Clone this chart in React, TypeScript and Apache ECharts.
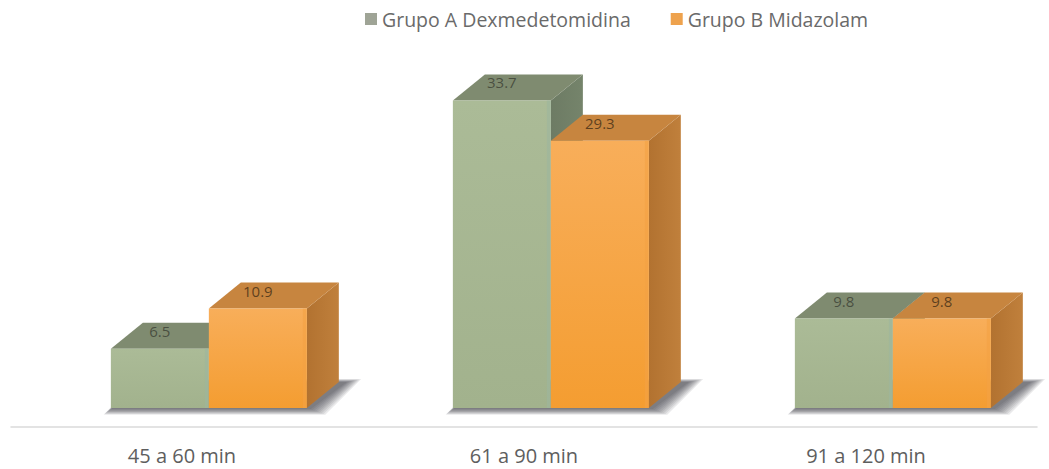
import React, { useEffect, useRef } from "react";
import * as echarts from "echarts";

// Chart data
const categories = ["45 a 60 min", "61 a 90 min", "91 a 120 min"];
const seriesNames = ["Grupo A Dexmedetomidina", "Grupo B Midazolam"];
const grupoA = [6.5, 33.7, 9.8];
const grupoB = [10.9, 29.3, 9.8];

// Box geometry (fractions of the category band, and the depth offset in px)
const BAR_OFF = -0.208;
const BAR_W = 0.2865;
const DX = 32;
const DY = -26;

type Palette = {
  frontTop: string;
  frontBottom: string;
  frontEdge: string;
  top: string;
  sideA: string;
  sideB: string;
  legend: string;
  label: string;
};

const palettes: Palette[] = [
  {
    frontTop: "#abbb97",
    frontBottom: "#a2b28d",
    frontEdge: "#9cb59e",
    top: "#7f8b70",
    sideA: "#6d7b64",
    sideB: "#75846b",
    legend: "#9fa496",
    label: "#3f4538",
  },
  {
    frontTop: "#f8ae5a",
    frontBottom: "#f49d31",
    frontEdge: "#f3a244",
    top: "#c7853f",
    sideA: "#b27230",
    sideB: "#c0803c",
    legend: "#eea24d",
    label: "#4a3318",
  },
];

function boxRenderer(idx: number) {
  const pal = palettes[idx];
  return (params: any, api: any) => {
    const ci = api.value(0);
    const v = api.value(1);
    const top = api.coord([ci, v]);
    const base = api.coord([ci, 0]);
    const band = api.size([1, 0])[0];
    const w = band * BAR_W;
    const x0 = top[0] + band * BAR_OFF + idx * w;
    const yT = top[1];
    const yB = base[1];
    const x1 = x0 + w;

    const topFace = [
      [x0, yT],
      [x1, yT],
      [x1 + DX, yT + DY],
      [x0 + DX, yT + DY],
    ];
    const sideFace = [
      [x1, yT],
      [x1 + DX, yT + DY],
      [x1 + DX, yB + DY],
      [x1, yB],
    ];

    return {
      type: "group",
      children: [
        {
          type: "polygon",
          shape: { points: sideFace },
          style: {
            fill: {
              type: "linear",
              x: 0,
              y: 0,
              x2: 1,
              y2: 0,
              colorStops: [
                { offset: 0, color: pal.sideA },
                { offset: 1, color: pal.sideB },
              ],
            },
          },
        },
        {
          type: "polygon",
          shape: { points: topFace },
          style: { fill: pal.top },
        },
        {
          type: "rect",
          shape: { x: x0, y: yT, width: w, height: yB - yT },
          style: {
            fill: {
              type: "linear",
              x: 0,
              y: 0,
              x2: 0,
              y2: 1,
              colorStops: [
                { offset: 0, color: pal.frontTop },
                { offset: 1, color: pal.frontBottom },
              ],
            },
          },
        },
        {
          type: "rect",
          shape: { x: x1 - 4, y: yT, width: 4, height: yB - yT },
          style: { fill: pal.frontEdge, opacity: 0.6 },
        },
        {
          type: "text",
          style: {
            text: String(v),
            x: x0 + w / 2,
            y: yT - 18,
            align: "center",
            verticalAlign: "middle",
            fontSize: 15,
            fontFamily: "Open Sans",
            fill: pal.label,
            opacity: 0.85,
          },
        },
      ],
    };
  };
}

// Soft floor shadow below each pair of boxes, built from stacked translucent layers
function shadowRenderer(params: any, api: any) {
  const ci = api.value(0);
  const base = api.coord([ci, 0]);
  const band = api.size([1, 0])[0];
  const w = band * BAR_W;
  const x0 = base[0] + band * BAR_OFF;
  const x1 = x0 + 2 * w;
  const yB = base[1];
  const layers = [];
  const steps = 8;
  for (let s = steps; s >= 0; s--) {
    const g = s * 1.8;
    layers.push({
      type: "polygon",
      shape: {
        points: [
          [x0 - g * 0.5, yB + 1 + g * 0.4],
          [x1 + 4 + g, yB + 1 + g * 0.4],
          [x1 + DX + 8 + g, yB + DY - g * 0.2],
          [x0 + DX - g * 0.3, yB + DY - g * 0.2],
        ],
      },
      style: { fill: "rgba(45,45,58,0.1)" },
    });
  }
  return { type: "group", children: layers };
}

export default function App() {
  const ref = useRef<HTMLDivElement>(null);

  useEffect(() => {
    if (!ref.current) return;
    const chart = echarts.init(ref.current, null, { renderer: "svg" });
    chart.setOption({
      animation: false,
      backgroundColor: "#ffffff",
      legend: {
        data: seriesNames,
        left: 365,
        top: 9,
        padding: 0,
        itemGap: 40,
        itemWidth: 12,
        itemHeight: 12,
        icon: "rect",
        textStyle: {
          fontFamily: "Open Sans",
          fontSize: 19.5,
          lineHeight: 20,
          color: "#6a6a6a",
        },
      },
      grid: { left: 11, right: 12, top: 43, bottom: 61 },
      xAxis: {
        type: "category",
        data: categories,
        offset: 19,
        axisLine: {
          show: true,
          onZero: false,
          lineStyle: { color: "#dadada", width: 1.5 },
        },
        axisTick: { show: false },
        axisLabel: {
          margin: 18,
          fontFamily: "Open Sans",
          fontSize: 20,
          lineHeight: 20,
          color: "#5e5e5e",
        },
      },
      yAxis: {
        type: "value",
        min: 0,
        max: 40,
        show: false,
        splitLine: { show: false },
      },
      series: [
        {
          type: "custom",
          name: "shadow",
          renderItem: shadowRenderer,
          data: categories.map((_, i) => [i, 0]),
          silent: true,
          z: 1,
        },
        {
          type: "custom",
          name: seriesNames[0],
          renderItem: boxRenderer(0),
          itemStyle: { color: palettes[0].legend },
          data: grupoA.map((v, i) => [i, v]),
          z: 2,
        },
        {
          type: "custom",
          name: seriesNames[1],
          renderItem: boxRenderer(1),
          itemStyle: { color: palettes[1].legend },
          data: grupoB.map((v, i) => [i, v]),
          z: 3,
        },
      ],
    });
    return () => chart.dispose();
  }, []);

  return (
    <div
      ref={ref}
      style={{ position: "fixed", left: 0, top: 0, width: 1049, height: 469 }}
    />
  );
}
